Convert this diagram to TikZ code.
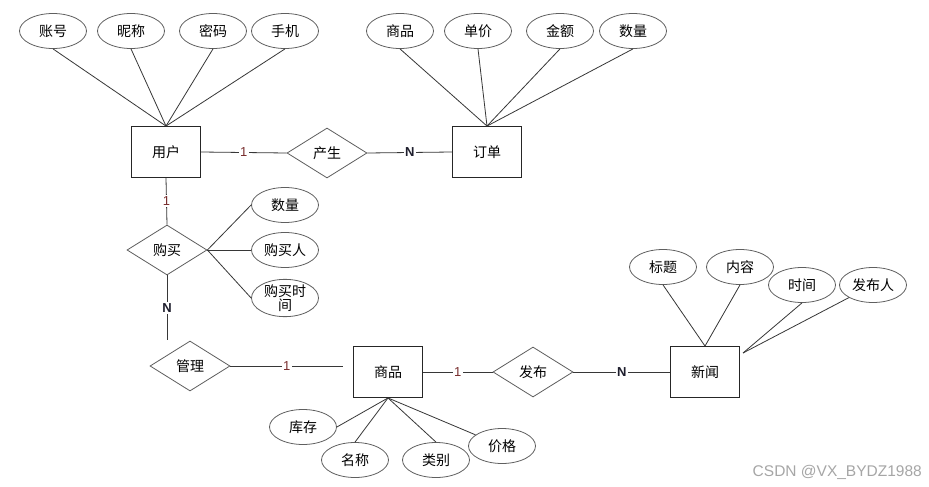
\documentclass[tikz,border=0pt]{standalone}
\usepackage{fontspec}
\newfontfamily\cjk{Noto Sans CJK SC}
\newfontfamily\lab{Liberation Sans}
\usetikzlibrary{shapes.geometric}
\definecolor{ln}{RGB}{55,55,55}
\definecolor{shp}{RGB}{95,95,95}
\definecolor{onec}{RGB}{120,45,45}
\definecolor{manyc}{RGB}{30,30,45}
\begin{document}
\begin{tikzpicture}[x=1pt,y=-1pt,
  attr/.style={ellipse,draw=shp,line width=0.8pt,minimum width=67pt,minimum height=35pt,inner sep=0pt,font=\cjk\fontsize{14}{15}\selectfont,align=center},
  ent/.style={rectangle,draw=black!85,line width=0.9pt,minimum width=69pt,minimum height=51pt,inner sep=0pt,font=\cjk\fontsize{14}{15}\selectfont},
  rel/.style={diamond,draw=shp,line width=0.8pt,minimum width=80pt,minimum height=50pt,inner sep=0pt,font=\cjk\fontsize{14}{15}\selectfont},
  conn/.style={draw=ln,line width=0.8pt},
  one/.style={fill=white,font=\lab\fontsize{13}{13}\selectfont,text=onec,inner sep=1.5pt},
  many/.style={fill=white,font=\lab\bfseries\fontsize{13}{13}\selectfont,text=manyc,inner sep=1.5pt},
  wm/.style={font=\lab\fontsize{15.5}{15.5}\selectfont,text=black!35,inner sep=0pt}]
\useasboundingbox[fill=white] (0,0) rectangle (929,487);

% user entity and attributes
\node[ent] (yh) at (166,152) {用户};
\node[attr] (zh) at (53,31) {账号};
\node[attr] (nc) at (131,31) {昵称};
\node[attr] (mm) at (213,31) {密码};
\node[attr] (sj) at (285,31) {手机};

% order entity and attributes
\node[ent] (dd) at (487,152) {订单};
\node[attr] (osp) at (400,31) {商品};
\node[attr] (dj) at (478,31) {单价};
\node[attr] (je) at (560,31) {金额};
\node[attr] (osl) at (633,31) {数量};

\node[rel] (cs) at (327,153) {产生};

% purchase
\node[rel] (gm) at (167,250) {购买};
\node[attr] (gsl) at (285,205) {数量};
\node[attr] (gmr) at (285,250) {购买人};
\node[attr,font=\cjk\fontsize{14}{13.5}\selectfont] (gmt) at (285,298) {购买时\\间};
\coordinate (gmend) at (167,340);

% manage
\node[rel] (gl) at (190,366) {管理};
\coordinate (glend) at (343,366);

% goods
\node[ent] (sp) at (388,372) {商品};
\node[attr] (kc) at (303,427) {库存};
\node[attr] (mc) at (355,460) {名称};
\node[attr] (lb) at (436,460) {类别};
\node[attr] (jg) at (502,446) {价格};

\node[rel] (fb) at (533,372) {发布};

% news
\node[ent] (xw) at (705,372) {新闻};
\node[attr] (bt) at (663,267) {标题};
\node[attr] (nr) at (740,267) {内容};
\node[attr] (sjj) at (802,285) {时间};
\node[attr] (fbr) at (873,285) {发布人};
\coordinate (xwp) at (743,353);

% connectors
\foreach \a in {zh,nc,mm,sj} \draw[conn] (\a.south) -- (yh.north);
\foreach \a in {osp,dj,je,osl} \draw[conn] (\a.south) -- (dd.north);
\draw[conn] (yh.east) -- node[one]{1} (cs.west);
\draw[conn] (cs.east) -- node[many]{N} (dd.west);
\draw[conn] (yh.south) -- node[one]{1} (gm.north);
\draw[conn] (gm.east) -- (gsl.west);
\draw[conn] (gm.east) -- (gmr.west);
\draw[conn] (gm.east) -- (gmt.west);
\draw[conn] (gm.south) -- node[many]{N} (gmend);
\draw[conn] (gl.east) -- node[one]{1} (glend);
\draw[conn] (sp.east) -- node[one]{1} (fb.west);
\draw[conn] (fb.east) -- node[many]{N} (xw.west);
\draw[conn] (sp.south) -- (kc.east);
\draw[conn] (sp.south) -- (mc.north);
\draw[conn] (sp.south) -- (lb.north);
\draw[conn] (sp.south) -- (jg);
\draw[conn] (bt.south) -- (xw.north);
\draw[conn] (nr.south) -- (xw.north);
\draw[conn] (sjj.south) -- (xwp);
\draw[conn] (fbr) -- (xwp);

\node[wm,anchor=east] (wmk) at (922,472) {CSDN @VX\_BYDZ1988};
\end{tikzpicture}
\end{document}
